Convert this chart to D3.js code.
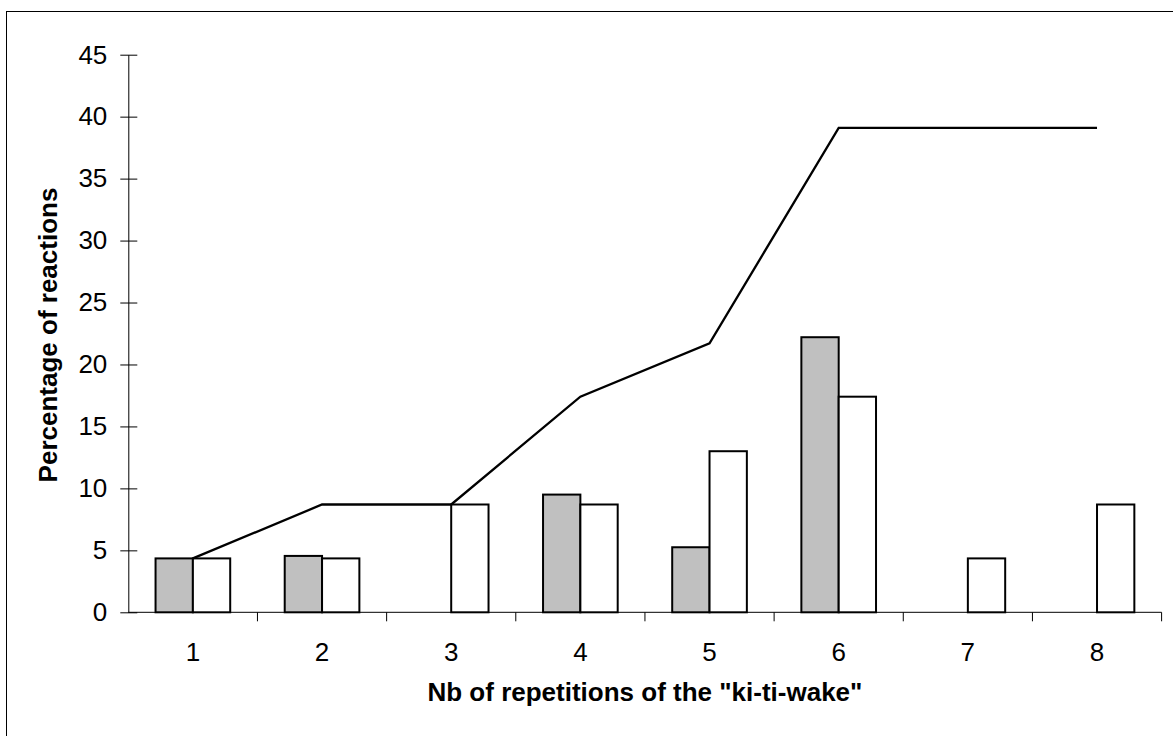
<!DOCTYPE html>
<html>
<head>
<meta charset="utf-8">
<script src="https://cdn.jsdelivr.net/npm/d3@7"></script>
<style>
  html, body { margin: 0; padding: 0; background: #fff; }
  svg { display: block; }
  text { font-family: "Liberation Sans", Arial, sans-serif; }
</style>
</head>
<body>
<svg id="chart" width="1173" height="736"></svg>
<script>
const categories = ["1", "2", "3", "4", "5", "6", "7", "8"];
const grayValues = [4.35, 4.55, null, 9.5, 5.25, 22.2, null, null];
const whiteValues = [4.35, 4.35, 8.7, 8.7, 13.0, 17.4, 4.35, 8.7];
const lineValues = [4.35, 8.7, 8.7, 17.4, 21.7, 39.1, 39.1, 39.1];
const yTicks = [0, 5, 10, 15, 20, 25, 30, 35, 40, 45];
const xTitle = 'Nb of repetitions of the "ki-ti-wake"';
const yTitle = "Percentage of reactions";

const svg = d3.select("#chart");
const pLeft = 128.3, pRight = 1161.6, pTop = 54.7, pBottom = 612.3;
const FS = 26;

// outer frame (only top/left visible in the picture)
svg.append("rect").attr("x", 6.5).attr("y", 11.5).attr("width", 1300).attr("height", 900)
  .attr("fill", "none").attr("stroke", "#000").attr("stroke-width", 1);

const x = d3.scaleBand().domain(categories).range([pLeft, pRight]).padding(0);
const y = d3.scaleLinear().domain([0, 45]).range([pBottom, pTop]);
const barW = x.bandwidth() * 0.289;

// Y axis
const yAxis = d3.axisLeft(y).tickValues(yTicks).tickSize(0).tickPadding(21);
const gy = svg.append("g").attr("transform", `translate(${pLeft},0)`).call(yAxis);
gy.attr("font-size", FS).attr("font-family", '"Liberation Sans", Arial, sans-serif');
gy.select(".domain").attr("stroke", "#000").attr("stroke-width", 1);
gy.selectAll(".tick text").attr("font-size", FS).attr("fill", "#000");
gy.selectAll(".tick").append("line").attr("x1", -8).attr("x2", 9)
  .attr("stroke", "#000").attr("stroke-width", 1);

// X axis line and boundary ticks
svg.append("line").attr("x1", pLeft).attr("x2", pRight).attr("y1", pBottom).attr("y2", pBottom)
  .attr("stroke", "#000").attr("stroke-width", 1);
const boundaries = categories.slice(1).map(c => x(c)).concat([pRight]);
svg.selectAll(".xtick").data(boundaries).enter().append("line")
  .attr("x1", d => d).attr("x2", d => d).attr("y1", pBottom).attr("y2", pBottom + 9)
  .attr("stroke", "#000").attr("stroke-width", 1);
svg.selectAll(".xlabel").data(categories).enter().append("text")
  .attr("x", d => x(d) + x.bandwidth() / 2).attr("y", 661)
  .attr("text-anchor", "middle").attr("font-size", FS).attr("fill", "#000").text(d => d);

// bars
const cx = c => x(c) + x.bandwidth() / 2;
svg.selectAll(".gbar").data(categories.map((c, i) => ({c, v: grayValues[i]})).filter(d => d.v != null))
  .enter().append("rect")
  .attr("x", d => cx(d.c) - barW).attr("y", d => y(d.v))
  .attr("width", barW).attr("height", d => y(0) - y(d.v))
  .attr("fill", "#c0c0c0").attr("stroke", "#000").attr("stroke-width", 2);
svg.selectAll(".wbar").data(categories.map((c, i) => ({c, v: whiteValues[i]})).filter(d => d.v != null))
  .enter().append("rect")
  .attr("x", d => cx(d.c)).attr("y", d => y(d.v))
  .attr("width", barW).attr("height", d => y(0) - y(d.v))
  .attr("fill", "#fff").attr("stroke", "#000").attr("stroke-width", 2);

// line
const line = d3.line().x((d, i) => cx(categories[i])).y(d => y(d));
svg.append("path").datum(lineValues).attr("d", line)
  .attr("fill", "none").attr("stroke", "#000").attr("stroke-width", 2.3);

// titles
svg.append("text").attr("x", (pLeft + pRight) / 2).attr("y", 701)
  .attr("text-anchor", "middle").attr("font-size", FS).attr("font-weight", "bold").text(xTitle);
svg.append("text").attr("transform", "translate(57,335) rotate(-90)")
  .attr("text-anchor", "middle").attr("font-size", FS).attr("font-weight", "bold").text(yTitle);
</script>
</body>
</html>
